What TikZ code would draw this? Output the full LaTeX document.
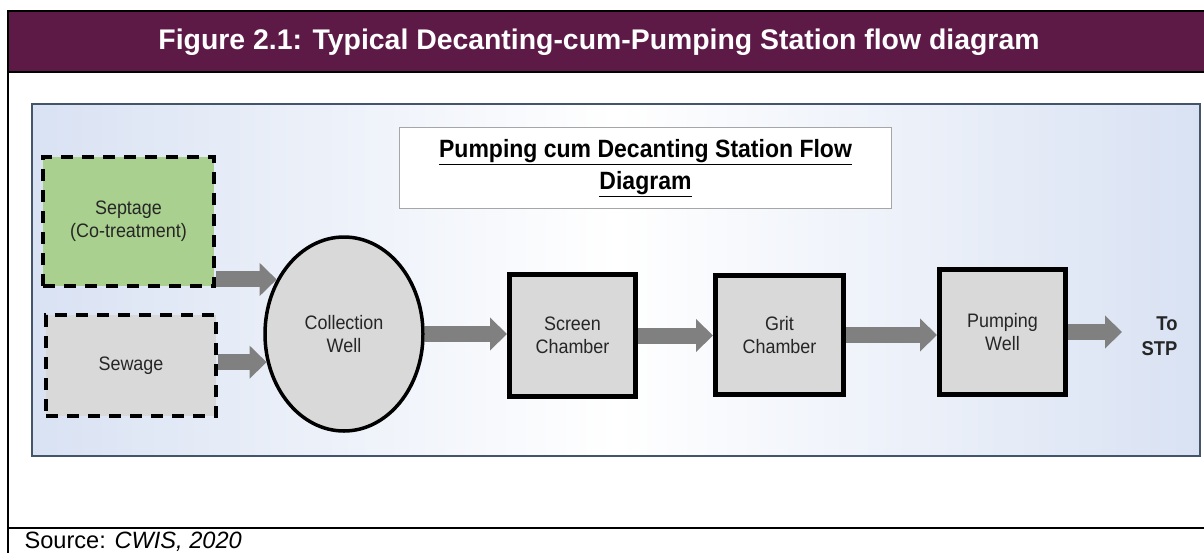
\documentclass[tikz,border=0pt]{standalone}
\usepackage{fontspec}
\setmainfont{Liberation Sans}
\newfontfamily\narrowfont{Liberation Sans}[FakeStretch=0.92]
\usetikzlibrary{positioning}
\usetikzlibrary{shapes,arrows.meta}

\definecolor{headpurple}{HTML}{5E1A47}
\definecolor{panelblue}{HTML}{44546A}
\definecolor{panelside}{HTML}{D9E2F3}
\definecolor{septgreen}{HTML}{A9D08E}
\definecolor{boxgray}{HTML}{D9D9D9}
\definecolor{flowgray}{HTML}{808080}

\begin{document}
\begin{tikzpicture}[x=1pt, y=-1pt,
	label/.style={align=center, text=black!85, font=\narrowfont\fontsize{19.5}{23}\selectfont},
	chamber/.style={label, draw=black, line width=5pt, fill=boxgray, minimum width=126pt, minimum height=122pt},
	source/.style={label, draw=black, line width=4pt, dash pattern=on 12pt off 9pt},
	flow/.style={draw=flowgray, line width=16pt, -{Triangle[width=32pt,length=17pt]}}]
	\useasboundingbox (0,0) rectangle (1204,552);
	% frame and heading
	\draw[line width=2pt, fill=headpurple] (8,11) rectangle (1206,72);
	\draw[line width=2pt] (8,72) -- (8,553);
	\draw[line width=2pt] (8,528) -- (1206,528);
	\node[text=white, font=\fontsize{28.4}{32}\selectfont\bfseries] (heading) at (599,42) {Figure 2.1: Typical Decanting-cum-Pumping Station flow diagram};
	\node[anchor=base west, font=\fontsize{23.6}{26}\selectfont] (srcnote) at (21,548) {Source: \textit{CWIS, 2020}};
	% panel
	\draw[draw=panelblue, line width=2.5pt, left color=panelside, right color=panelside, middle color=white] (32,104) rectangle (1200,456);
	\node[draw=black!35, line width=1.5pt, fill=white, minimum width=492pt, minimum height=81pt, align=center, font=\narrowfont\fontsize{25}{32}\selectfont\bfseries] (flowtitle) at (645.5,168) {\underline{Pumping cum Decanting Station Flow}\\\underline{Diagram}};
	% blocks
	\node[source, fill=septgreen, minimum width=171pt, minimum height=129pt] (septage) at (128.5,221.5) {Septage\\(Co-treatment)};
	\node[source, fill=boxgray, minimum width=170pt, minimum height=101pt] (sewage) at (131,365.5) {Sewage};
	\node[label, ellipse, draw=black, line width=3.5pt, fill=boxgray, minimum width=158pt, minimum height=194pt, inner sep=0pt] (well) at (344,334) {Collection\\Well};
	\node[chamber] (screen) at (572.5,335.5) {Screen\\Chamber};
	\node[chamber, minimum width=128pt, minimum height=119pt] (grit) at (779.5,335) {Grit\\Chamber};
	\node[chamber, minimum height=125pt] (pump) at (1002.5,332) {Pumping\\Well};
	\node[label, anchor=east, align=right, font=\narrowfont\fontsize{20}{25}\selectfont\bfseries] (tostp) at (1181,336) {To\\STP};
	\coordinate (stp) at (1122,332);
	% flow arrows
	\draw[flow] (septage.east |- well.141) -- (well.141);
	\draw[flow] (sewage.east |- well.200) -- (well.200);
	\draw[flow] (well.east) -- (well.east -| screen.west);
	\draw[flow] (screen.east) -- (screen.east -| grit.west);
	\draw[flow] (grit.east) -- (grit.east -| pump.west);
	\draw[flow] (pump.east) -- (stp);
\end{tikzpicture}
\end{document}
